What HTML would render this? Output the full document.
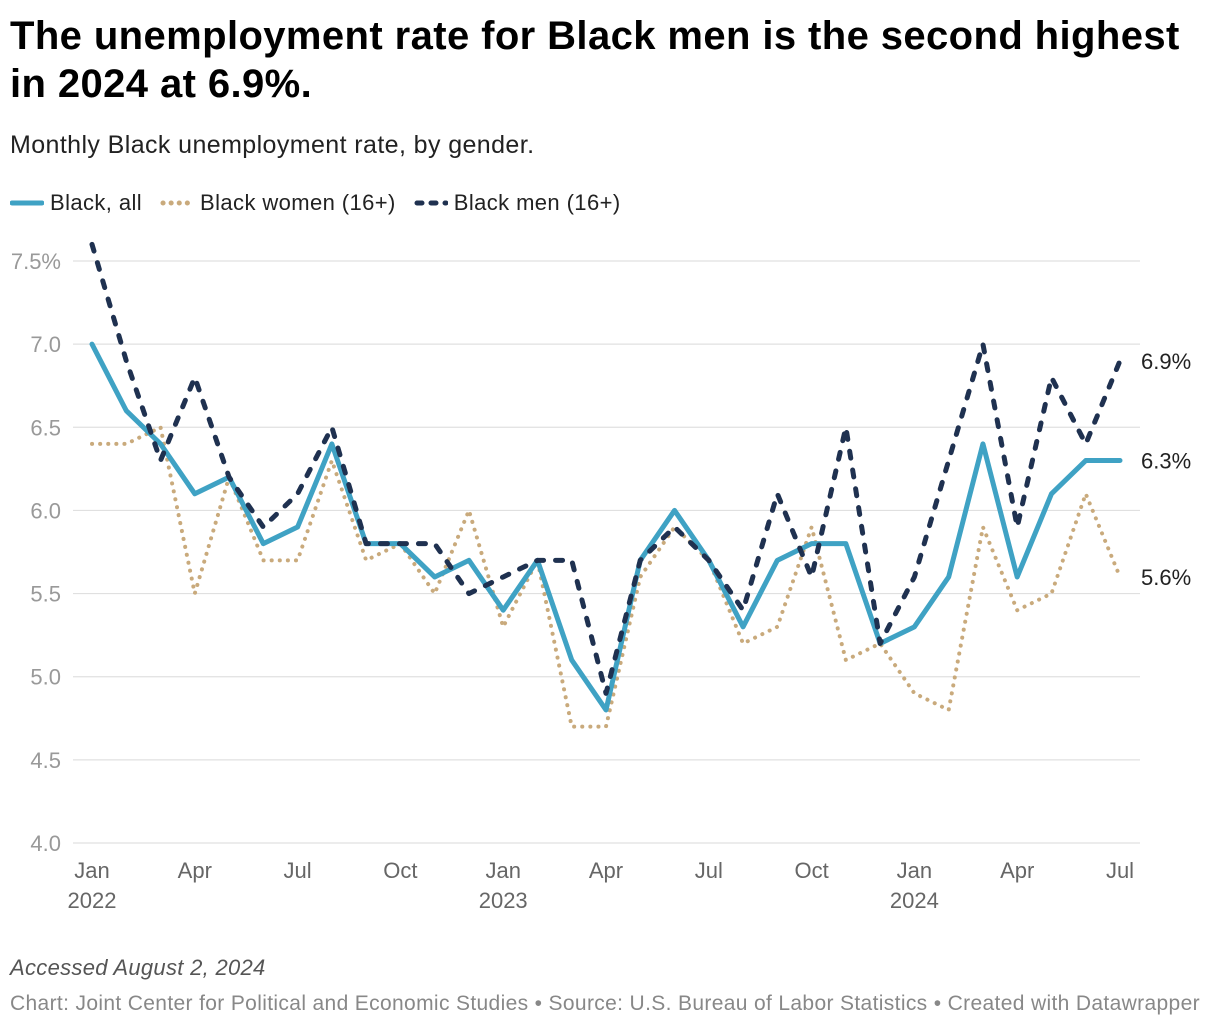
<!DOCTYPE html>
<html><head><meta charset="utf-8">
<style>
body{margin:0;background:#fff;font-family:"Liberation Sans",Arial,sans-serif;}
#wrap{position:relative;width:1220px;height:1028px;overflow:hidden;}
h1{position:absolute;left:10px;top:12px;margin:0;font-size:40px;line-height:48px;font-weight:bold;color:#000;width:1195px;letter-spacing:0.4px;}
.sub{position:absolute;left:10px;top:131px;font-size:25px;letter-spacing:0.4px;color:#222;}
.legend{position:absolute;left:10px;top:190px;font-size:22px;letter-spacing:0.4px;color:#222;display:flex;gap:18px;align-items:center;}
.legend span.it{display:flex;align-items:center;gap:6px;}
.foot1{position:absolute;left:10px;top:955px;font-size:22px;letter-spacing:0.3px;font-style:italic;color:#555;}
.foot2{position:absolute;left:10px;top:992px;font-size:21px;letter-spacing:0.35px;color:#888;}
</style></head><body>
<div id="wrap">
<h1>The unemployment rate for Black men is the second highest in 2024 at 6.9%.</h1>
<div class="sub">Monthly Black unemployment rate, by gender.</div>
<div class="legend">
 <span class="it"><svg width="34" height="10"><line x1="2" y1="5" x2="32" y2="5" stroke="#3fa2c4" stroke-width="5" stroke-linecap="round"/></svg>Black, all</span>
 <span class="it"><svg width="34" height="10"><line x1="3" y1="5" x2="32" y2="5" stroke="#c9aa7c" stroke-width="5" stroke-dasharray="0.1 8" stroke-linecap="round"/></svg>Black women (16+)</span>
 <span class="it"><svg width="34" height="10"><line x1="3" y1="5" x2="32" y2="5" stroke="#1f3150" stroke-width="5" stroke-dasharray="5 9" stroke-linecap="round"/></svg>Black men (16+)</span>
</div>
<svg id="plot" width="1220" height="1028" style="position:absolute;left:0;top:0"></svg>
<div class="foot1">Accessed August 2, 2024</div>
<div class="foot2">Chart: Joint Center for Political and Economic Studies • Source: U.S. Bureau of Labor Statistics • Created with Datawrapper</div>
</div>
<script>
const months=["Jan","Feb","Mar","Apr","May","Jun","Jul","Aug","Sep","Oct","Nov","Dec","Jan","Feb","Mar","Apr","May","Jun","Jul","Aug","Sep","Oct","Nov","Dec","Jan","Feb","Mar","Apr","May","Jun","Jul"];
const blackAll=[7.0,6.6,6.4,6.1,6.2,5.8,5.9,6.4,5.8,5.8,5.6,5.7,5.4,5.7,5.1,4.8,5.7,6.0,5.7,5.3,5.7,5.8,5.8,5.2,5.3,5.6,6.4,5.6,6.1,6.3,6.3];
const blackWomen=[6.4,6.4,6.5,5.5,6.2,5.7,5.7,6.3,5.7,5.8,5.5,6.0,5.3,5.7,4.7,4.7,5.6,5.9,5.7,5.2,5.3,5.9,5.1,5.2,4.9,4.8,5.9,5.4,5.5,6.1,5.6];
const blackMen=[7.6,6.9,6.3,6.8,6.2,5.9,6.1,6.5,5.8,5.8,5.8,5.5,5.6,5.7,5.7,4.9,5.7,5.9,5.7,5.4,6.1,5.6,6.5,5.2,5.6,6.3,7.0,5.9,6.8,6.4,6.9];
const yTicks=[4.0,4.5,5.0,5.5,6.0,6.5,7.0,7.5];
const xTickIdx=[0,3,6,9,12,15,18,21,24,27,30];
const yearLabels={0:"2022",12:"2023",24:"2024"};
const NS="http://www.w3.org/2000/svg";
const svg=document.getElementById("plot");
const x0=92,x1=1120,y0=843,y1=261;
const X=i=>x0+(x1-x0)*i/(months.length-1);
const Y=v=>y0+(y1-y0)*(v-4.0)/(7.5-4.0);
function mk(t,a){const e=document.createElementNS(NS,t);for(const k in a)e.setAttribute(k,a[k]);svg.appendChild(e);return e;}
yTicks.forEach(v=>{
 const lab=v.toFixed(1)+(v===7.5?"%":"");
 const l=mk("line",{x1:73,x2:1140,y1:Y(v),y2:Y(v),stroke:"#e0e0e0","stroke-width":1.2});
 
 
 const t=mk("text",{x:61,y:Y(v)+8,"font-size":22,fill:"#999","text-anchor":"end","font-family":"Liberation Sans,sans-serif"});
 t.textContent=lab;
 
 
});
xTickIdx.forEach(i=>{
 const t=mk("text",{x:X(i),y:878,"font-size":22,fill:"#666","text-anchor":"middle","font-family":"Liberation Sans,sans-serif"});
 t.textContent=months[i];
 
 
 if(yearLabels[i]){
  const t2=mk("text",{x:X(i),y:908,"font-size":22,fill:"#666","text-anchor":"middle","font-family":"Liberation Sans,sans-serif"});
  t2.textContent=yearLabels[i];
  
  
 }
});
function series(data,color,w,dash,name){
 const p=mk("polyline",{points:data.map((v,i)=>X(i)+","+Y(v)).join(" "),fill:"none",stroke:color,"stroke-width":w,"stroke-linejoin":"round","stroke-linecap":"round"});
 if(dash)p.setAttribute("stroke-dasharray",dash);
 
 
}
series(blackWomen,"#c9aa7c",4,"0.1 8","line-black-women");
series(blackAll,"#3fa2c4",5,null,"line-black-all");
series(blackMen,"#1f3150",5,"7 12","line-black-men");
[[blackMen,"end-label-men"],[blackAll,"end-label-all"],[blackWomen,"end-label-women"]].forEach(([d,n])=>{
 const v=d[d.length-1];
 const t=mk("text",{x:1141,y:Y(v)+8,"font-size":22,fill:"#222","font-family":"Liberation Sans,sans-serif"});
 t.textContent=v.toFixed(1)+"%";
 
 
});
</script>
</body></html>
